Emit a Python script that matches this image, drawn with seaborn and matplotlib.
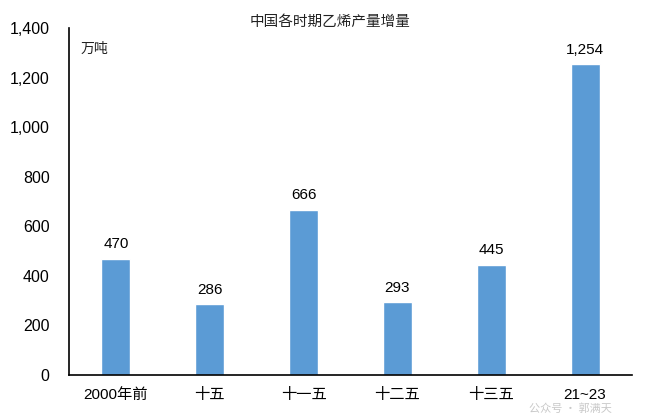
import matplotlib
matplotlib.use("Agg")
import matplotlib.pyplot as plt
import seaborn as sns
import pandas as pd
from matplotlib.ticker import FuncFormatter

categories = ["2000年前", "十五", "十一五", "十二五", "十三五", "21~23"]
values = [470, 286, 666, 293, 445, 1254]
yticks = [0, 200, 400, 600, 800, 1000, 1200, 1400]
title = "中国各时期乙烯产量增量"
unit = "万吨"

sns.set_theme(style="white")
plt.rcParams["font.family"] = ["Liberation Sans", "Noto Sans CJK SC", "DejaVu Sans"]

df = pd.DataFrame({"cat": categories, "val": values})

fig = plt.figure(figsize=(6.6, 4.15), dpi=100)
ax = fig.add_axes([69/660, 1 - 375/415, (632-69)/660, (375-28)/415])
sns.barplot(data=df, x="cat", y="val", color="#5B9BD5", saturation=1, width=0.31, ax=ax)

ax.set_ylim(0, 1400)
ax.set_yticks(yticks)
ax.yaxis.set_major_formatter(FuncFormatter(lambda v, p: f"{int(v):,}"))
ax.set_xlabel("")
ax.set_ylabel("")
for s in ["top", "right"]:
    ax.spines[s].set_visible(False)
for s in ["left", "bottom"]:
    ax.spines[s].set_color("#000000")
    ax.spines[s].set_linewidth(1.2)
ax.tick_params(axis="y", direction="in", length=3, width=1.2, color="black",
               labelsize=11.5, labelcolor="black", pad=14)
ax.tick_params(axis="x", length=0, labelsize=11, labelcolor="black", pad=9)
for lab in ax.get_xticklabels():
    lab.set_fontfamily(["Liberation Sans", "Noto Sans CJK SC"])

for i, v in enumerate(values):
    ax.text(i, v + 30, f"{v:,}", ha="center", va="bottom", fontsize=11, color="black")

fig.text(330/660, 1 - 22/415, title, ha="center", va="center", fontsize=10.5,
         color="#222222", family=["Noto Sans CJK SC"])
ax.text(81/660, 1 - 49/415, unit, transform=fig.transFigure, ha="left", va="center",
        fontsize=10, color="#222222", family=["Noto Sans CJK SC"])
fig.text(570/660, 1 - 409/415, "公众号 · 郭满天", ha="center", va="center",
         fontsize=8, color="#bbbbbb", alpha=0.8, family=["Noto Sans CJK SC"])

fig.savefig("out.png", dpi=100)
